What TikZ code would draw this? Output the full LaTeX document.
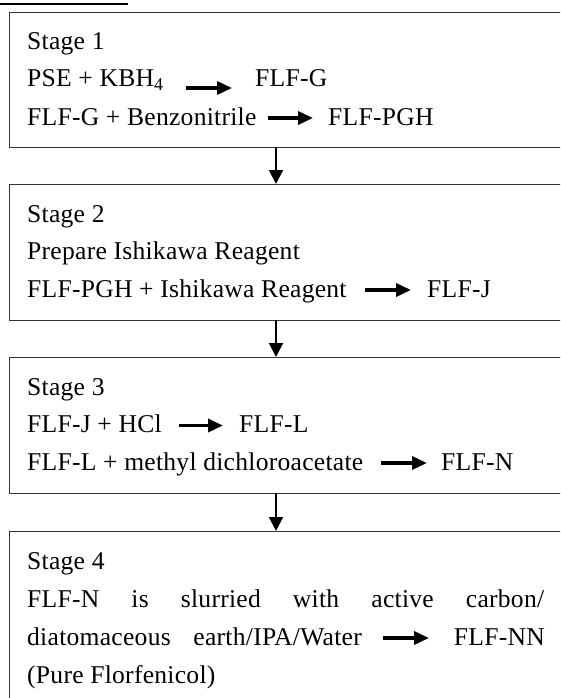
\documentclass[tikz,border=0pt]{standalone}
\usepackage{fontspec}
\setmainfont[LetterSpace=1]{Liberation Serif}
\usetikzlibrary{arrows.meta}
\tikzset{
  box/.style={draw=black!80, line width=1.4pt, rectangle, anchor=north west, minimum width=580pt, minimum height=135pt, inner sep=0pt},
  txt/.style={anchor=base west, inner sep=0pt, font=\fontsize{25.6pt}{30pt}\selectfont},
  rx/.style={-{Triangle[length=15pt,width=13pt]}, line width=3.5pt},
  flow/.style={-{Triangle[length=14pt,width=14pt]}, line width=2pt}
}
\begin{document}
\begin{tikzpicture}[x=1pt,y=-1pt]
\useasboundingbox (0,0) rectangle (560,698);
\clip (0,0) rectangle (560,698);
\fill[white] (0,0) rectangle (560,698);
% cropped title underline
\draw[line width=2pt] (0,4) -- (128,4);

% boxes
\node[box] (s1) at (9,12) {};
\node[box, minimum height=136pt] (s2) at (9,184) {};
\node[box, minimum height=136pt] (s3) at (9,357) {};
\node[box, minimum height=200pt] (s4) at (9,531) {};

\coordinate (c1) at (276,147);
\coordinate (c2) at (276,184);
\coordinate (c3) at (276,320);
\coordinate (c4) at (276,357);
\coordinate (c5) at (276,493);
\coordinate (c6) at (276,531);
\draw[flow] (c1) -- (c2);
\draw[flow] (c3) -- (c4);
\draw[flow] (c5) -- (c6);

% Stage 1
\node[txt] (t1) at (27,50) {Stage 1};
\node[txt] (a1) at (27,87) {PSE + KBH\textsubscript{4}};
\node[txt] (b1) at (255,87) {FLF-G};
\draw[rx] ([yshift=-1pt]a1.base east -| 186,0) -- ([yshift=-1pt]b1.base west -| 232,0);
\node[txt] (a2) at (27,125) {FLF-G + Benzonitrile};
\node[txt] (b2) at (328,125) {FLF-PGH};
\draw[rx] ([yshift=7pt]a2.base east -| 268,0) -- ([yshift=7pt]b2.base west -| 313,0);

% Stage 2
\node[txt] (t2) at (27,222) {Stage 2};
\node[txt] (a3) at (27,259.5) {Prepare Ishikawa Reagent};
\node[txt] (a4) at (27,297) {FLF-PGH + Ishikawa Reagent};
\node[txt] (b4) at (427,297) {FLF-J};
\draw[rx] ([yshift=7pt]a4.base east -| 365,0) -- ([yshift=7pt]b4.base west -| 411,0);

% Stage 3
\node[txt] (t3) at (27,395) {Stage 3};
\node[txt] (a5) at (27,432.5) {FLF-J + HCl};
\node[txt] (b5) at (239,432.5) {FLF-L};
\draw[rx] ([yshift=7pt]a5.base east -| 179,0) -- ([yshift=7pt]b5.base west -| 223,0);
\node[txt] (a6) at (27,470) {FLF-L + methyl dichloroacetate};
\node[txt] (b6) at (441,470) {FLF-N};
\draw[rx] ([yshift=7pt]a6.base east -| 381,0) -- ([yshift=7pt]b6.base west -| 427,0);

% Stage 4
\node[txt] (t4) at (27,569) {Stage 4};
\node[txt] (a7) at (27,607) {\makebox[517pt][s]{FLF-N is slurried with active carbon/}};
\node[txt] (a8) at (27,645) {diatomaceous};
\node[txt, anchor=base east] (a9) at (362,645) {earth/IPA/Water};
\node[txt, anchor=base east] (b9) at (545,645) {FLF-NN};
\draw[rx] ([yshift=7pt]a9.base east -| 383,0) -- ([yshift=7pt]b9.base west -| 429,0);
\node[txt] (a10) at (27,683) {(Pure Florfenicol)};
\end{tikzpicture}
\end{document}
